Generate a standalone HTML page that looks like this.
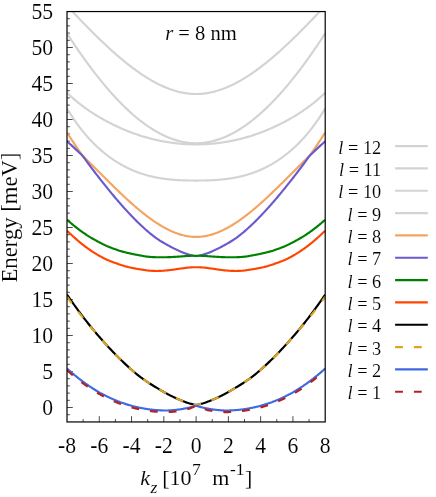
<!DOCTYPE html>
<html><head><meta charset="utf-8"><title>plot</title>
<style>
html,body{margin:0;padding:0;background:#fff}
svg{display:block;will-change:transform;opacity:0.999}
text{font-family:"Liberation Serif",serif;fill:#000;stroke:#fff;stroke-width:0.1px}
.i{font-style:italic}
</style></head><body>
<svg width="436" height="497" viewBox="0 0 436 497">
<rect width="436" height="497" fill="#fff"/>
<defs><clipPath id="c"><rect x="67.0" y="11.55" width="258.20" height="410.40"/></clipPath></defs>
<path d="M67.0,414.70h2.9M67.0,407.50h5.8M67.0,400.30h2.9M67.0,393.10h2.9M67.0,385.90h2.9M67.0,378.70h2.9M67.0,371.50h5.8M67.0,364.30h2.9M67.0,357.10h2.9M67.0,349.90h2.9M67.0,342.70h2.9M67.0,335.50h5.8M67.0,328.30h2.9M67.0,321.10h2.9M67.0,313.90h2.9M67.0,306.70h2.9M67.0,299.50h5.8M67.0,292.30h2.9M67.0,285.10h2.9M67.0,277.90h2.9M67.0,270.70h2.9M67.0,263.50h5.8M67.0,256.30h2.9M67.0,249.10h2.9M67.0,241.90h2.9M67.0,234.70h2.9M67.0,227.50h5.8M67.0,220.30h2.9M67.0,213.10h2.9M67.0,205.90h2.9M67.0,198.70h2.9M67.0,191.50h5.8M67.0,184.30h2.9M67.0,177.10h2.9M67.0,169.90h2.9M67.0,162.70h2.9M67.0,155.50h5.8M67.0,148.30h2.9M67.0,141.10h2.9M67.0,133.90h2.9M67.0,126.70h2.9M67.0,119.50h5.8M67.0,112.30h2.9M67.0,105.10h2.9M67.0,97.90h2.9M67.0,90.70h2.9M67.0,83.50h5.8M67.0,76.30h2.9M67.0,69.10h2.9M67.0,61.90h2.9M67.0,54.70h2.9M67.0,47.50h5.8M67.0,40.30h2.9M67.0,33.10h2.9M67.0,25.90h2.9M67.0,18.70h2.9M83.14,421.95v-2.9M99.28,421.95v-5.8M115.41,421.95v-2.9M131.55,421.95v-5.8M147.69,421.95v-2.9M163.82,421.95v-5.8M179.96,421.95v-2.9M196.10,421.95v-5.8M212.24,421.95v-2.9M228.38,421.95v-5.8M244.51,421.95v-2.9M260.65,421.95v-5.8M276.79,421.95v-2.9M292.92,421.95v-5.8M309.06,421.95v-2.9" stroke="#000" stroke-width="0.7" fill="none"/>
<g clip-path="url(#c)" fill="none" stroke-width="2.15" stroke-linejoin="round">
<path d="M67.00,5.79 L67.81,6.65 L68.61,7.51 L69.42,8.36 L70.23,9.22 L71.03,10.07 L71.84,10.93 L72.65,11.78 L73.46,12.63 L74.26,13.48 L75.07,14.33 L75.88,15.17 L76.68,16.02 L77.49,16.86 L78.30,17.71 L79.10,18.55 L79.91,19.39 L80.72,20.23 L81.52,21.06 L82.33,21.90 L83.14,22.73 L83.94,23.56 L84.75,24.39 L85.56,25.21 L86.37,26.04 L87.17,26.86 L87.98,27.68 L88.79,28.50 L89.59,29.31 L90.40,30.12 L91.21,30.94 L92.01,31.74 L92.82,32.55 L93.63,33.35 L94.43,34.15 L95.24,34.95 L96.05,35.74 L96.85,36.53 L97.66,37.32 L98.47,38.11 L99.28,38.89 L100.08,39.67 L100.89,40.45 L101.70,41.22 L102.50,41.99 L103.31,42.76 L104.12,43.52 L104.92,44.28 L105.73,45.04 L106.54,45.79 L107.34,46.54 L108.15,47.29 L108.96,48.03 L109.76,48.77 L110.57,49.50 L111.38,50.23 L112.19,50.96 L112.99,51.68 L113.80,52.40 L114.61,53.12 L115.41,53.83 L116.22,54.53 L117.03,55.24 L117.83,55.93 L118.64,56.63 L119.45,57.32 L120.25,58.00 L121.06,58.68 L121.87,59.35 L122.67,60.03 L123.48,60.69 L124.29,61.35 L125.09,62.01 L125.90,62.66 L126.71,63.31 L127.52,63.95 L128.32,64.58 L129.13,65.21 L129.94,65.84 L130.74,66.46 L131.55,67.07 L132.36,67.68 L133.16,68.29 L133.97,68.89 L134.78,69.48 L135.58,70.07 L136.39,70.65 L137.20,71.23 L138.00,71.80 L138.81,72.36 L139.62,72.92 L140.43,73.48 L141.23,74.02 L142.04,74.56 L142.85,75.10 L143.65,75.63 L144.46,76.15 L145.27,76.67 L146.07,77.18 L146.88,77.68 L147.69,78.18 L148.49,78.67 L149.30,79.15 L150.11,79.63 L150.92,80.10 L151.72,80.56 L152.53,81.02 L153.34,81.47 L154.14,81.91 L154.95,82.35 L155.76,82.78 L156.56,83.20 L157.37,83.62 L158.18,84.02 L158.98,84.42 L159.79,84.82 L160.60,85.20 L161.40,85.58 L162.21,85.95 L163.02,86.32 L163.82,86.67 L164.63,87.02 L165.44,87.36 L166.25,87.69 L167.05,88.02 L167.86,88.34 L168.67,88.65 L169.47,88.95 L170.28,89.24 L171.09,89.52 L171.89,89.80 L172.70,90.07 L173.51,90.33 L174.31,90.58 L175.12,90.83 L175.93,91.06 L176.74,91.29 L177.54,91.51 L178.35,91.71 L179.16,91.92 L179.96,92.11 L180.77,92.29 L181.58,92.46 L182.38,92.63 L183.19,92.79 L184.00,92.93 L184.80,93.07 L185.61,93.20 L186.42,93.32 L187.22,93.43 L188.03,93.53 L188.84,93.62 L189.65,93.71 L190.45,93.78 L191.26,93.84 L192.07,93.90 L192.87,93.94 L193.68,93.98 L194.49,94.00 L195.29,94.02 L196.10,94.02 L196.91,94.02 L197.71,94.00 L198.52,93.98 L199.33,93.94 L200.13,93.90 L200.94,93.84 L201.75,93.78 L202.56,93.71 L203.36,93.62 L204.17,93.53 L204.98,93.43 L205.78,93.32 L206.59,93.20 L207.40,93.07 L208.20,92.93 L209.01,92.79 L209.82,92.63 L210.62,92.46 L211.43,92.29 L212.24,92.11 L213.04,91.92 L213.85,91.71 L214.66,91.51 L215.47,91.29 L216.27,91.06 L217.08,90.83 L217.89,90.58 L218.69,90.33 L219.50,90.07 L220.31,89.80 L221.11,89.52 L221.92,89.24 L222.73,88.95 L223.53,88.65 L224.34,88.34 L225.15,88.02 L225.95,87.69 L226.76,87.36 L227.57,87.02 L228.38,86.67 L229.18,86.32 L229.99,85.95 L230.80,85.58 L231.60,85.20 L232.41,84.82 L233.22,84.42 L234.02,84.02 L234.83,83.62 L235.64,83.20 L236.44,82.78 L237.25,82.35 L238.06,81.91 L238.86,81.47 L239.67,81.02 L240.48,80.56 L241.28,80.10 L242.09,79.63 L242.90,79.15 L243.71,78.67 L244.51,78.18 L245.32,77.68 L246.13,77.18 L246.93,76.67 L247.74,76.15 L248.55,75.63 L249.35,75.10 L250.16,74.56 L250.97,74.02 L251.77,73.48 L252.58,72.92 L253.39,72.36 L254.20,71.80 L255.00,71.23 L255.81,70.65 L256.62,70.07 L257.42,69.48 L258.23,68.89 L259.04,68.29 L259.84,67.68 L260.65,67.07 L261.46,66.46 L262.26,65.84 L263.07,65.21 L263.88,64.58 L264.68,63.95 L265.49,63.31 L266.30,62.66 L267.11,62.01 L267.91,61.35 L268.72,60.69 L269.53,60.03 L270.33,59.35 L271.14,58.68 L271.95,58.00 L272.75,57.32 L273.56,56.63 L274.37,55.93 L275.17,55.24 L275.98,54.53 L276.79,53.83 L277.59,53.12 L278.40,52.40 L279.21,51.68 L280.01,50.96 L280.82,50.23 L281.63,49.50 L282.44,48.77 L283.24,48.03 L284.05,47.29 L284.86,46.54 L285.66,45.79 L286.47,45.04 L287.28,44.28 L288.08,43.52 L288.89,42.76 L289.70,41.99 L290.50,41.22 L291.31,40.45 L292.12,39.67 L292.92,38.89 L293.73,38.11 L294.54,37.32 L295.35,36.53 L296.15,35.74 L296.96,34.95 L297.77,34.15 L298.57,33.35 L299.38,32.55 L300.19,31.74 L300.99,30.94 L301.80,30.12 L302.61,29.31 L303.41,28.50 L304.22,27.68 L305.03,26.86 L305.84,26.04 L306.64,25.21 L307.45,24.39 L308.26,23.56 L309.06,22.73 L309.87,21.90 L310.68,21.06 L311.48,20.23 L312.29,19.39 L313.10,18.55 L313.90,17.71 L314.71,16.86 L315.52,16.02 L316.32,15.17 L317.13,14.33 L317.94,13.48 L318.75,12.63 L319.55,11.78 L320.36,10.93 L321.17,10.07 L321.97,9.22 L322.78,8.36 L323.59,7.51 L324.39,6.65 L325.20,5.79" stroke="#d3d3d3"/>
<path d="M67.00,33.36 L67.81,34.61 L68.61,35.85 L69.42,37.09 L70.23,38.32 L71.03,39.55 L71.84,40.77 L72.65,41.98 L73.46,43.19 L74.26,44.40 L75.07,45.59 L75.88,46.79 L76.68,47.97 L77.49,49.15 L78.30,50.33 L79.10,51.49 L79.91,52.66 L80.72,53.81 L81.52,54.96 L82.33,56.11 L83.14,57.25 L83.94,58.38 L84.75,59.50 L85.56,60.62 L86.37,61.74 L87.17,62.85 L87.98,63.95 L88.79,65.04 L89.59,66.13 L90.40,67.21 L91.21,68.29 L92.01,69.36 L92.82,70.42 L93.63,71.48 L94.43,72.53 L95.24,73.57 L96.05,74.61 L96.85,75.64 L97.66,76.66 L98.47,77.68 L99.28,78.69 L100.08,79.69 L100.89,80.69 L101.70,81.68 L102.50,82.67 L103.31,83.64 L104.12,84.61 L104.92,85.58 L105.73,86.53 L106.54,87.48 L107.34,88.42 L108.15,89.36 L108.96,90.29 L109.76,91.21 L110.57,92.12 L111.38,93.03 L112.19,93.93 L112.99,94.82 L113.80,95.71 L114.61,96.59 L115.41,97.46 L116.22,98.33 L117.03,99.18 L117.83,100.03 L118.64,100.87 L119.45,101.71 L120.25,102.54 L121.06,103.36 L121.87,104.17 L122.67,104.98 L123.48,105.77 L124.29,106.56 L125.09,107.35 L125.90,108.12 L126.71,108.89 L127.52,109.65 L128.32,110.40 L129.13,111.14 L129.94,111.88 L130.74,112.61 L131.55,113.33 L132.36,114.04 L133.16,114.75 L133.97,115.45 L134.78,116.14 L135.58,116.82 L136.39,117.49 L137.20,118.16 L138.00,118.82 L138.81,119.47 L139.62,120.11 L140.43,120.74 L141.23,121.37 L142.04,121.98 L142.85,122.59 L143.65,123.19 L144.46,123.79 L145.27,124.37 L146.07,124.95 L146.88,125.51 L147.69,126.07 L148.49,126.62 L149.30,127.17 L150.11,127.70 L150.92,128.22 L151.72,128.74 L152.53,129.25 L153.34,129.75 L154.14,130.24 L154.95,130.72 L155.76,131.20 L156.56,131.66 L157.37,132.12 L158.18,132.57 L158.98,133.01 L159.79,133.44 L160.60,133.86 L161.40,134.27 L162.21,134.68 L163.02,135.07 L163.82,135.46 L164.63,135.83 L165.44,136.20 L166.25,136.56 L167.05,136.91 L167.86,137.25 L168.67,137.58 L169.47,137.90 L170.28,138.22 L171.09,138.52 L171.89,138.82 L172.70,139.10 L173.51,139.38 L174.31,139.65 L175.12,139.90 L175.93,140.15 L176.74,140.39 L177.54,140.62 L178.35,140.84 L179.16,141.05 L179.96,141.25 L180.77,141.45 L181.58,141.63 L182.38,141.80 L183.19,141.96 L184.00,142.12 L184.80,142.26 L185.61,142.39 L186.42,142.52 L187.22,142.63 L188.03,142.74 L188.84,142.83 L189.65,142.92 L190.45,142.99 L191.26,143.06 L192.07,143.11 L192.87,143.16 L193.68,143.19 L194.49,143.22 L195.29,143.23 L196.10,143.24 L196.91,143.23 L197.71,143.22 L198.52,143.19 L199.33,143.16 L200.13,143.11 L200.94,143.06 L201.75,142.99 L202.56,142.92 L203.36,142.83 L204.17,142.74 L204.98,142.63 L205.78,142.52 L206.59,142.39 L207.40,142.26 L208.20,142.12 L209.01,141.96 L209.82,141.80 L210.62,141.63 L211.43,141.45 L212.24,141.25 L213.04,141.05 L213.85,140.84 L214.66,140.62 L215.47,140.39 L216.27,140.15 L217.08,139.90 L217.89,139.65 L218.69,139.38 L219.50,139.10 L220.31,138.82 L221.11,138.52 L221.92,138.22 L222.73,137.90 L223.53,137.58 L224.34,137.25 L225.15,136.91 L225.95,136.56 L226.76,136.20 L227.57,135.83 L228.38,135.46 L229.18,135.07 L229.99,134.68 L230.80,134.27 L231.60,133.86 L232.41,133.44 L233.22,133.01 L234.02,132.57 L234.83,132.12 L235.64,131.66 L236.44,131.20 L237.25,130.72 L238.06,130.24 L238.86,129.75 L239.67,129.25 L240.48,128.74 L241.28,128.22 L242.09,127.70 L242.90,127.17 L243.71,126.62 L244.51,126.07 L245.32,125.51 L246.13,124.95 L246.93,124.37 L247.74,123.79 L248.55,123.19 L249.35,122.59 L250.16,121.98 L250.97,121.37 L251.77,120.74 L252.58,120.11 L253.39,119.47 L254.20,118.82 L255.00,118.16 L255.81,117.49 L256.62,116.82 L257.42,116.14 L258.23,115.45 L259.04,114.75 L259.84,114.04 L260.65,113.33 L261.46,112.61 L262.26,111.88 L263.07,111.14 L263.88,110.40 L264.68,109.65 L265.49,108.89 L266.30,108.12 L267.11,107.35 L267.91,106.56 L268.72,105.77 L269.53,104.98 L270.33,104.17 L271.14,103.36 L271.95,102.54 L272.75,101.71 L273.56,100.87 L274.37,100.03 L275.17,99.18 L275.98,98.33 L276.79,97.46 L277.59,96.59 L278.40,95.71 L279.21,94.82 L280.01,93.93 L280.82,93.03 L281.63,92.12 L282.44,91.21 L283.24,90.29 L284.05,89.36 L284.86,88.42 L285.66,87.48 L286.47,86.53 L287.28,85.58 L288.08,84.61 L288.89,83.64 L289.70,82.67 L290.50,81.68 L291.31,80.69 L292.12,79.69 L292.92,78.69 L293.73,77.68 L294.54,76.66 L295.35,75.64 L296.15,74.61 L296.96,73.57 L297.77,72.53 L298.57,71.48 L299.38,70.42 L300.19,69.36 L300.99,68.29 L301.80,67.21 L302.61,66.13 L303.41,65.04 L304.22,63.95 L305.03,62.85 L305.84,61.74 L306.64,60.62 L307.45,59.50 L308.26,58.38 L309.06,57.25 L309.87,56.11 L310.68,54.96 L311.48,53.81 L312.29,52.66 L313.10,51.49 L313.90,50.33 L314.71,49.15 L315.52,47.97 L316.32,46.79 L317.13,45.59 L317.94,44.40 L318.75,43.19 L319.55,41.98 L320.36,40.77 L321.17,39.55 L321.97,38.32 L322.78,37.09 L323.59,35.85 L324.39,34.61 L325.20,33.36" stroke="#d3d3d3"/>
<path d="M67.00,92.83 L67.81,93.59 L68.61,94.33 L69.42,95.07 L70.23,95.81 L71.03,96.53 L71.84,97.25 L72.65,97.97 L73.46,98.67 L74.26,99.37 L75.07,100.06 L75.88,100.74 L76.68,101.41 L77.49,102.08 L78.30,102.73 L79.10,103.38 L79.91,104.01 L80.72,104.64 L81.52,105.26 L82.33,105.86 L83.14,106.46 L83.94,107.05 L84.75,107.63 L85.56,108.21 L86.37,108.78 L87.17,109.35 L87.98,109.92 L88.79,110.47 L89.59,111.03 L90.40,111.57 L91.21,112.11 L92.01,112.65 L92.82,113.17 L93.63,113.69 L94.43,114.21 L95.24,114.72 L96.05,115.22 L96.85,115.71 L97.66,116.20 L98.47,116.68 L99.28,117.16 L100.08,117.62 L100.89,118.09 L101.70,118.55 L102.50,119.00 L103.31,119.45 L104.12,119.90 L104.92,120.34 L105.73,120.78 L106.54,121.21 L107.34,121.64 L108.15,122.06 L108.96,122.48 L109.76,122.90 L110.57,123.31 L111.38,123.72 L112.19,124.12 L112.99,124.52 L113.80,124.92 L114.61,125.31 L115.41,125.70 L116.22,126.08 L117.03,126.46 L117.83,126.83 L118.64,127.20 L119.45,127.57 L120.25,127.93 L121.06,128.29 L121.87,128.64 L122.67,128.99 L123.48,129.34 L124.29,129.68 L125.09,130.01 L125.90,130.35 L126.71,130.68 L127.52,131.00 L128.32,131.32 L129.13,131.64 L129.94,131.95 L130.74,132.26 L131.55,132.57 L132.36,132.87 L133.16,133.16 L133.97,133.45 L134.78,133.74 L135.58,134.03 L136.39,134.31 L137.20,134.58 L138.00,134.86 L138.81,135.13 L139.62,135.39 L140.43,135.65 L141.23,135.91 L142.04,136.16 L142.85,136.41 L143.65,136.65 L144.46,136.89 L145.27,137.13 L146.07,137.36 L146.88,137.59 L147.69,137.82 L148.49,138.04 L149.30,138.25 L150.11,138.47 L150.92,138.68 L151.72,138.88 L152.53,139.08 L153.34,139.28 L154.14,139.48 L154.95,139.67 L155.76,139.85 L156.56,140.03 L157.37,140.21 L158.18,140.39 L158.98,140.56 L159.79,140.72 L160.60,140.89 L161.40,141.05 L162.21,141.20 L163.02,141.35 L163.82,141.50 L164.63,141.65 L165.44,141.79 L166.25,141.92 L167.05,142.06 L167.86,142.18 L168.67,142.31 L169.47,142.43 L170.28,142.55 L171.09,142.66 L171.89,142.77 L172.70,142.88 L173.51,142.98 L174.31,143.08 L175.12,143.18 L175.93,143.27 L176.74,143.36 L177.54,143.44 L178.35,143.52 L179.16,143.60 L179.96,143.67 L180.77,143.74 L181.58,143.81 L182.38,143.87 L183.19,143.93 L184.00,143.99 L184.80,144.04 L185.61,144.09 L186.42,144.13 L187.22,144.17 L188.03,144.21 L188.84,144.24 L189.65,144.27 L190.45,144.30 L191.26,144.32 L192.07,144.34 L192.87,144.36 L193.68,144.37 L194.49,144.38 L195.29,144.38 L196.10,144.39 L196.91,144.38 L197.71,144.38 L198.52,144.37 L199.33,144.36 L200.13,144.34 L200.94,144.32 L201.75,144.30 L202.56,144.27 L203.36,144.24 L204.17,144.21 L204.98,144.17 L205.78,144.13 L206.59,144.09 L207.40,144.04 L208.20,143.99 L209.01,143.93 L209.82,143.87 L210.62,143.81 L211.43,143.74 L212.24,143.67 L213.04,143.60 L213.85,143.52 L214.66,143.44 L215.47,143.36 L216.27,143.27 L217.08,143.18 L217.89,143.08 L218.69,142.98 L219.50,142.88 L220.31,142.77 L221.11,142.66 L221.92,142.55 L222.73,142.43 L223.53,142.31 L224.34,142.18 L225.15,142.06 L225.95,141.92 L226.76,141.79 L227.57,141.65 L228.38,141.50 L229.18,141.35 L229.99,141.20 L230.80,141.05 L231.60,140.89 L232.41,140.72 L233.22,140.56 L234.02,140.39 L234.83,140.21 L235.64,140.03 L236.44,139.85 L237.25,139.67 L238.06,139.48 L238.86,139.28 L239.67,139.08 L240.48,138.88 L241.28,138.68 L242.09,138.47 L242.90,138.25 L243.71,138.04 L244.51,137.82 L245.32,137.59 L246.13,137.36 L246.93,137.13 L247.74,136.89 L248.55,136.65 L249.35,136.41 L250.16,136.16 L250.97,135.91 L251.77,135.65 L252.58,135.39 L253.39,135.13 L254.20,134.86 L255.00,134.58 L255.81,134.31 L256.62,134.03 L257.42,133.74 L258.23,133.45 L259.04,133.16 L259.84,132.87 L260.65,132.57 L261.46,132.26 L262.26,131.95 L263.07,131.64 L263.88,131.32 L264.68,131.00 L265.49,130.68 L266.30,130.35 L267.11,130.01 L267.91,129.68 L268.72,129.34 L269.53,128.99 L270.33,128.64 L271.14,128.29 L271.95,127.93 L272.75,127.57 L273.56,127.20 L274.37,126.83 L275.17,126.46 L275.98,126.08 L276.79,125.70 L277.59,125.31 L278.40,124.92 L279.21,124.52 L280.01,124.12 L280.82,123.72 L281.63,123.31 L282.44,122.90 L283.24,122.48 L284.05,122.06 L284.86,121.64 L285.66,121.21 L286.47,120.78 L287.28,120.34 L288.08,119.90 L288.89,119.45 L289.70,119.00 L290.50,118.55 L291.31,118.09 L292.12,117.62 L292.92,117.16 L293.73,116.68 L294.54,116.20 L295.35,115.71 L296.15,115.22 L296.96,114.72 L297.77,114.21 L298.57,113.69 L299.38,113.17 L300.19,112.65 L300.99,112.11 L301.80,111.57 L302.61,111.03 L303.41,110.47 L304.22,109.92 L305.03,109.35 L305.84,108.78 L306.64,108.21 L307.45,107.63 L308.26,107.05 L309.06,106.46 L309.87,105.86 L310.68,105.26 L311.48,104.64 L312.29,104.01 L313.10,103.38 L313.90,102.73 L314.71,102.08 L315.52,101.41 L316.32,100.74 L317.13,100.06 L317.94,99.37 L318.75,98.67 L319.55,97.97 L320.36,97.25 L321.17,96.53 L321.97,95.81 L322.78,95.07 L323.59,94.33 L324.39,93.59 L325.20,92.83" stroke="#d3d3d3"/>
<path d="M67.00,108.49 L67.81,109.81 L68.61,111.11 L69.42,112.40 L70.23,113.68 L71.03,114.94 L71.84,116.17 L72.65,117.40 L73.46,118.60 L74.26,119.79 L75.07,120.96 L75.88,122.11 L76.68,123.24 L77.49,124.35 L78.30,125.44 L79.10,126.52 L79.91,127.58 L80.72,128.63 L81.52,129.67 L82.33,130.69 L83.14,131.70 L83.94,132.69 L84.75,133.67 L85.56,134.64 L86.37,135.58 L87.17,136.51 L87.98,137.43 L88.79,138.33 L89.59,139.21 L90.40,140.07 L91.21,140.91 L92.01,141.74 L92.82,142.56 L93.63,143.37 L94.43,144.16 L95.24,144.94 L96.05,145.72 L96.85,146.48 L97.66,147.23 L98.47,147.97 L99.28,148.69 L100.08,149.41 L100.89,150.12 L101.70,150.81 L102.50,151.50 L103.31,152.17 L104.12,152.84 L104.92,153.49 L105.73,154.14 L106.54,154.77 L107.34,155.39 L108.15,156.01 L108.96,156.61 L109.76,157.20 L110.57,157.79 L111.38,158.36 L112.19,158.93 L112.99,159.48 L113.80,160.03 L114.61,160.56 L115.41,161.09 L116.22,161.61 L117.03,162.12 L117.83,162.62 L118.64,163.11 L119.45,163.59 L120.25,164.06 L121.06,164.53 L121.87,164.98 L122.67,165.43 L123.48,165.87 L124.29,166.30 L125.09,166.72 L125.90,167.13 L126.71,167.54 L127.52,167.93 L128.32,168.32 L129.13,168.70 L129.94,169.08 L130.74,169.44 L131.55,169.80 L132.36,170.15 L133.16,170.49 L133.97,170.83 L134.78,171.16 L135.58,171.48 L136.39,171.79 L137.20,172.10 L138.00,172.40 L138.81,172.69 L139.62,172.97 L140.43,173.25 L141.23,173.52 L142.04,173.79 L142.85,174.05 L143.65,174.30 L144.46,174.54 L145.27,174.78 L146.07,175.02 L146.88,175.24 L147.69,175.46 L148.49,175.68 L149.30,175.89 L150.11,176.09 L150.92,176.29 L151.72,176.48 L152.53,176.66 L153.34,176.84 L154.14,177.02 L154.95,177.19 L155.76,177.35 L156.56,177.51 L157.37,177.66 L158.18,177.81 L158.98,177.96 L159.79,178.09 L160.60,178.23 L161.40,178.36 L162.21,178.48 L163.02,178.60 L163.82,178.72 L164.63,178.83 L165.44,178.93 L166.25,179.04 L167.05,179.13 L167.86,179.23 L168.67,179.32 L169.47,179.40 L170.28,179.49 L171.09,179.56 L171.89,179.64 L172.70,179.71 L173.51,179.78 L174.31,179.84 L175.12,179.90 L175.93,179.96 L176.74,180.01 L177.54,180.07 L178.35,180.11 L179.16,180.16 L179.96,180.20 L180.77,180.24 L181.58,180.28 L182.38,180.31 L183.19,180.34 L184.00,180.37 L184.80,180.40 L185.61,180.42 L186.42,180.44 L187.22,180.46 L188.03,180.48 L188.84,180.49 L189.65,180.51 L190.45,180.52 L191.26,180.53 L192.07,180.54 L192.87,180.54 L193.68,180.55 L194.49,180.55 L195.29,180.55 L196.10,180.55 L196.91,180.55 L197.71,180.55 L198.52,180.55 L199.33,180.54 L200.13,180.54 L200.94,180.53 L201.75,180.52 L202.56,180.51 L203.36,180.49 L204.17,180.48 L204.98,180.46 L205.78,180.44 L206.59,180.42 L207.40,180.40 L208.20,180.37 L209.01,180.34 L209.82,180.31 L210.62,180.28 L211.43,180.24 L212.24,180.20 L213.04,180.16 L213.85,180.11 L214.66,180.07 L215.47,180.01 L216.27,179.96 L217.08,179.90 L217.89,179.84 L218.69,179.78 L219.50,179.71 L220.31,179.64 L221.11,179.56 L221.92,179.49 L222.73,179.40 L223.53,179.32 L224.34,179.23 L225.15,179.13 L225.95,179.04 L226.76,178.93 L227.57,178.83 L228.38,178.72 L229.18,178.60 L229.99,178.48 L230.80,178.36 L231.60,178.23 L232.41,178.09 L233.22,177.96 L234.02,177.81 L234.83,177.66 L235.64,177.51 L236.44,177.35 L237.25,177.19 L238.06,177.02 L238.86,176.84 L239.67,176.66 L240.48,176.48 L241.28,176.29 L242.09,176.09 L242.90,175.89 L243.71,175.68 L244.51,175.46 L245.32,175.24 L246.13,175.02 L246.93,174.78 L247.74,174.54 L248.55,174.30 L249.35,174.05 L250.16,173.79 L250.97,173.52 L251.77,173.25 L252.58,172.97 L253.39,172.69 L254.20,172.40 L255.00,172.10 L255.81,171.79 L256.62,171.48 L257.42,171.16 L258.23,170.83 L259.04,170.49 L259.84,170.15 L260.65,169.80 L261.46,169.44 L262.26,169.08 L263.07,168.70 L263.88,168.32 L264.68,167.93 L265.49,167.54 L266.30,167.13 L267.11,166.72 L267.91,166.30 L268.72,165.87 L269.53,165.43 L270.33,164.98 L271.14,164.53 L271.95,164.06 L272.75,163.59 L273.56,163.11 L274.37,162.62 L275.17,162.12 L275.98,161.61 L276.79,161.09 L277.59,160.56 L278.40,160.03 L279.21,159.48 L280.01,158.93 L280.82,158.36 L281.63,157.79 L282.44,157.20 L283.24,156.61 L284.05,156.01 L284.86,155.39 L285.66,154.77 L286.47,154.14 L287.28,153.49 L288.08,152.84 L288.89,152.17 L289.70,151.50 L290.50,150.81 L291.31,150.12 L292.12,149.41 L292.92,148.69 L293.73,147.97 L294.54,147.23 L295.35,146.48 L296.15,145.72 L296.96,144.94 L297.77,144.16 L298.57,143.37 L299.38,142.56 L300.19,141.74 L300.99,140.91 L301.80,140.07 L302.61,139.21 L303.41,138.33 L304.22,137.43 L305.03,136.51 L305.84,135.58 L306.64,134.64 L307.45,133.67 L308.26,132.69 L309.06,131.70 L309.87,130.69 L310.68,129.67 L311.48,128.63 L312.29,127.58 L313.10,126.52 L313.90,125.44 L314.71,124.35 L315.52,123.24 L316.32,122.11 L317.13,120.96 L317.94,119.79 L318.75,118.60 L319.55,117.40 L320.36,116.17 L321.17,114.94 L321.97,113.68 L322.78,112.40 L323.59,111.11 L324.39,109.81 L325.20,108.49" stroke="#d3d3d3"/>
<path d="M67.00,132.47 L67.81,133.73 L68.61,134.99 L69.42,136.24 L70.23,137.49 L71.03,138.73 L71.84,139.97 L72.65,141.20 L73.46,142.42 L74.26,143.64 L75.07,144.85 L75.88,146.05 L76.68,147.24 L77.49,148.42 L78.30,149.59 L79.10,150.76 L79.91,151.91 L80.72,153.05 L81.52,154.19 L82.33,155.33 L83.14,156.30 L83.94,157.08 L84.75,157.87 L85.56,158.65 L86.37,159.44 L87.17,160.23 L87.98,161.03 L88.79,161.82 L89.59,162.62 L90.40,163.41 L91.21,164.21 L92.01,165.01 L92.82,165.81 L93.63,166.62 L94.43,167.42 L95.24,168.22 L96.05,169.03 L96.85,169.83 L97.66,170.64 L98.47,171.44 L99.28,172.25 L100.08,173.05 L100.89,173.86 L101.70,174.67 L102.50,175.47 L103.31,176.28 L104.12,177.08 L104.92,177.89 L105.73,178.69 L106.54,179.49 L107.34,180.29 L108.15,181.09 L108.96,181.89 L109.76,182.69 L110.57,183.49 L111.38,184.28 L112.19,185.08 L112.99,185.87 L113.80,186.66 L114.61,187.45 L115.41,188.23 L116.22,189.02 L117.03,189.80 L117.83,190.58 L118.64,191.35 L119.45,192.13 L120.25,192.90 L121.06,193.67 L121.87,194.43 L122.67,195.20 L123.48,195.96 L124.29,196.71 L125.09,197.46 L125.90,198.21 L126.71,198.96 L127.52,199.70 L128.32,200.44 L129.13,201.17 L129.94,201.90 L130.74,202.63 L131.55,203.35 L132.36,204.06 L133.16,204.78 L133.97,205.48 L134.78,206.19 L135.58,206.88 L136.39,207.58 L137.20,208.26 L138.00,208.95 L138.81,209.62 L139.62,210.29 L140.43,210.96 L141.23,211.62 L142.04,212.27 L142.85,212.92 L143.65,213.56 L144.46,214.20 L145.27,214.83 L146.07,215.45 L146.88,216.07 L147.69,216.68 L148.49,217.29 L149.30,217.88 L150.11,218.47 L150.92,219.06 L151.72,219.63 L152.53,220.20 L153.34,220.76 L154.14,221.32 L154.95,221.86 L155.76,222.40 L156.56,222.93 L157.37,223.45 L158.18,223.97 L158.98,224.47 L159.79,224.97 L160.60,225.46 L161.40,225.94 L162.21,226.41 L163.02,226.88 L163.82,227.33 L164.63,227.78 L165.44,228.21 L166.25,228.64 L167.05,229.06 L167.86,229.47 L168.67,229.87 L169.47,230.26 L170.28,230.64 L171.09,231.01 L171.89,231.36 L172.70,231.71 L173.51,232.05 L174.31,232.38 L175.12,232.70 L175.93,233.01 L176.74,233.31 L177.54,233.59 L178.35,233.87 L179.16,234.13 L179.96,234.39 L180.77,234.63 L181.58,234.86 L182.38,235.08 L183.19,235.29 L184.00,235.48 L184.80,235.67 L185.61,235.84 L186.42,236.00 L187.22,236.15 L188.03,236.28 L188.84,236.41 L189.65,236.52 L190.45,236.61 L191.26,236.70 L192.07,236.77 L192.87,236.83 L193.68,236.88 L194.49,236.91 L195.29,236.93 L196.10,236.94 L196.91,236.93 L197.71,236.91 L198.52,236.88 L199.33,236.83 L200.13,236.77 L200.94,236.70 L201.75,236.61 L202.56,236.52 L203.36,236.41 L204.17,236.28 L204.98,236.15 L205.78,236.00 L206.59,235.84 L207.40,235.67 L208.20,235.48 L209.01,235.29 L209.82,235.08 L210.62,234.86 L211.43,234.63 L212.24,234.39 L213.04,234.13 L213.85,233.87 L214.66,233.59 L215.47,233.31 L216.27,233.01 L217.08,232.70 L217.89,232.38 L218.69,232.05 L219.50,231.71 L220.31,231.36 L221.11,231.01 L221.92,230.64 L222.73,230.26 L223.53,229.87 L224.34,229.47 L225.15,229.06 L225.95,228.64 L226.76,228.21 L227.57,227.78 L228.38,227.33 L229.18,226.88 L229.99,226.41 L230.80,225.94 L231.60,225.46 L232.41,224.97 L233.22,224.47 L234.02,223.97 L234.83,223.45 L235.64,222.93 L236.44,222.40 L237.25,221.86 L238.06,221.32 L238.86,220.76 L239.67,220.20 L240.48,219.63 L241.28,219.06 L242.09,218.47 L242.90,217.88 L243.71,217.29 L244.51,216.68 L245.32,216.07 L246.13,215.45 L246.93,214.83 L247.74,214.20 L248.55,213.56 L249.35,212.92 L250.16,212.27 L250.97,211.62 L251.77,210.96 L252.58,210.29 L253.39,209.62 L254.20,208.95 L255.00,208.26 L255.81,207.58 L256.62,206.88 L257.42,206.19 L258.23,205.48 L259.04,204.78 L259.84,204.06 L260.65,203.35 L261.46,202.63 L262.26,201.90 L263.07,201.17 L263.88,200.44 L264.68,199.70 L265.49,198.96 L266.30,198.21 L267.11,197.46 L267.91,196.71 L268.72,195.96 L269.53,195.20 L270.33,194.43 L271.14,193.67 L271.95,192.90 L272.75,192.13 L273.56,191.35 L274.37,190.58 L275.17,189.80 L275.98,189.02 L276.79,188.23 L277.59,187.45 L278.40,186.66 L279.21,185.87 L280.01,185.08 L280.82,184.28 L281.63,183.49 L282.44,182.69 L283.24,181.89 L284.05,181.09 L284.86,180.29 L285.66,179.49 L286.47,178.69 L287.28,177.89 L288.08,177.08 L288.89,176.28 L289.70,175.47 L290.50,174.67 L291.31,173.86 L292.12,173.05 L292.92,172.25 L293.73,171.44 L294.54,170.64 L295.35,169.83 L296.15,169.03 L296.96,168.22 L297.77,167.42 L298.57,166.62 L299.38,165.81 L300.19,165.01 L300.99,164.21 L301.80,163.41 L302.61,162.62 L303.41,161.82 L304.22,161.03 L305.03,160.23 L305.84,159.44 L306.64,158.65 L307.45,157.87 L308.26,157.08 L309.06,156.30 L309.87,155.33 L310.68,154.19 L311.48,153.05 L312.29,151.91 L313.10,150.76 L313.90,149.59 L314.71,148.42 L315.52,147.24 L316.32,146.05 L317.13,144.85 L317.94,143.64 L318.75,142.42 L319.55,141.20 L320.36,139.97 L321.17,138.73 L321.97,137.49 L322.78,136.24 L323.59,134.99 L324.39,133.73 L325.20,132.47" stroke="#f4a460"/>
<path d="M67.00,141.30 L67.81,142.01 L68.61,142.73 L69.42,143.45 L70.23,144.18 L71.03,144.91 L71.84,145.64 L72.65,146.38 L73.46,147.13 L74.26,147.87 L75.07,148.62 L75.88,149.38 L76.68,150.13 L77.49,150.89 L78.30,151.66 L79.10,152.42 L79.91,153.19 L80.72,153.97 L81.52,154.74 L82.33,155.52 L83.14,156.46 L83.94,157.59 L84.75,158.72 L85.56,159.84 L86.37,160.95 L87.17,162.06 L87.98,163.16 L88.79,164.26 L89.59,165.35 L90.40,166.43 L91.21,167.50 L92.01,168.57 L92.82,169.63 L93.63,170.70 L94.43,171.75 L95.24,172.81 L96.05,173.86 L96.85,174.91 L97.66,175.95 L98.47,176.99 L99.28,178.03 L100.08,179.06 L100.89,180.09 L101.70,181.12 L102.50,182.14 L103.31,183.16 L104.12,184.18 L104.92,185.19 L105.73,186.19 L106.54,187.20 L107.34,188.20 L108.15,189.19 L108.96,190.18 L109.76,191.17 L110.57,192.15 L111.38,193.12 L112.19,194.10 L112.99,195.06 L113.80,196.03 L114.61,196.99 L115.41,197.94 L116.22,198.89 L117.03,199.83 L117.83,200.77 L118.64,201.71 L119.45,202.63 L120.25,203.56 L121.06,204.48 L121.87,205.39 L122.67,206.30 L123.48,207.20 L124.29,208.10 L125.09,208.99 L125.90,209.88 L126.71,210.76 L127.52,211.63 L128.32,212.50 L129.13,213.37 L129.94,214.22 L130.74,215.07 L131.55,215.92 L132.36,216.76 L133.16,217.59 L133.97,218.42 L134.78,219.24 L135.58,220.06 L136.39,220.87 L137.20,221.67 L138.00,222.47 L138.81,223.26 L139.62,224.04 L140.43,224.81 L141.23,225.58 L142.04,226.34 L142.85,227.08 L143.65,227.82 L144.46,228.55 L145.27,229.27 L146.07,229.98 L146.88,230.68 L147.69,231.37 L148.49,232.05 L149.30,232.72 L150.11,233.39 L150.92,234.04 L151.72,234.69 L152.53,235.32 L153.34,235.95 L154.14,236.57 L154.95,237.17 L155.76,237.77 L156.56,238.36 L157.37,238.92 L158.18,239.47 L158.98,240.01 L159.79,240.53 L160.60,241.04 L161.40,241.53 L162.21,242.01 L163.02,242.49 L163.82,242.96 L164.63,243.42 L165.44,243.87 L166.25,244.32 L167.05,244.77 L167.86,245.21 L168.67,245.66 L169.47,246.10 L170.28,246.54 L171.09,246.97 L171.89,247.40 L172.70,247.81 L173.51,248.21 L174.31,248.61 L175.12,248.99 L175.93,249.36 L176.74,249.74 L177.54,250.12 L178.35,250.51 L179.16,250.90 L179.96,251.29 L180.77,251.66 L181.58,252.01 L182.38,252.34 L183.19,252.67 L184.00,252.99 L184.80,253.29 L185.61,253.58 L186.42,253.86 L187.22,254.12 L188.03,254.37 L188.84,254.61 L189.65,254.83 L190.45,255.03 L191.26,255.23 L192.07,255.40 L192.87,255.57 L193.68,255.71 L194.49,255.85 L195.29,255.97 L196.10,256.07 L196.91,255.97 L197.71,255.85 L198.52,255.71 L199.33,255.57 L200.13,255.40 L200.94,255.23 L201.75,255.03 L202.56,254.83 L203.36,254.61 L204.17,254.37 L204.98,254.12 L205.78,253.86 L206.59,253.58 L207.40,253.29 L208.20,252.99 L209.01,252.67 L209.82,252.34 L210.62,252.01 L211.43,251.66 L212.24,251.29 L213.04,250.90 L213.85,250.51 L214.66,250.12 L215.47,249.74 L216.27,249.36 L217.08,248.99 L217.89,248.61 L218.69,248.21 L219.50,247.81 L220.31,247.40 L221.11,246.97 L221.92,246.54 L222.73,246.10 L223.53,245.66 L224.34,245.21 L225.15,244.77 L225.95,244.32 L226.76,243.87 L227.57,243.42 L228.38,242.96 L229.18,242.49 L229.99,242.01 L230.80,241.53 L231.60,241.04 L232.41,240.53 L233.22,240.01 L234.02,239.47 L234.83,238.92 L235.64,238.36 L236.44,237.77 L237.25,237.17 L238.06,236.57 L238.86,235.95 L239.67,235.32 L240.48,234.69 L241.28,234.04 L242.09,233.39 L242.90,232.72 L243.71,232.05 L244.51,231.37 L245.32,230.68 L246.13,229.98 L246.93,229.27 L247.74,228.55 L248.55,227.82 L249.35,227.08 L250.16,226.34 L250.97,225.58 L251.77,224.81 L252.58,224.04 L253.39,223.26 L254.20,222.47 L255.00,221.67 L255.81,220.87 L256.62,220.06 L257.42,219.24 L258.23,218.42 L259.04,217.59 L259.84,216.76 L260.65,215.92 L261.46,215.07 L262.26,214.22 L263.07,213.37 L263.88,212.50 L264.68,211.63 L265.49,210.76 L266.30,209.88 L267.11,208.99 L267.91,208.10 L268.72,207.20 L269.53,206.30 L270.33,205.39 L271.14,204.48 L271.95,203.56 L272.75,202.63 L273.56,201.71 L274.37,200.77 L275.17,199.83 L275.98,198.89 L276.79,197.94 L277.59,196.99 L278.40,196.03 L279.21,195.06 L280.01,194.10 L280.82,193.12 L281.63,192.15 L282.44,191.17 L283.24,190.18 L284.05,189.19 L284.86,188.20 L285.66,187.20 L286.47,186.19 L287.28,185.19 L288.08,184.18 L288.89,183.16 L289.70,182.14 L290.50,181.12 L291.31,180.09 L292.12,179.06 L292.92,178.03 L293.73,176.99 L294.54,175.95 L295.35,174.91 L296.15,173.86 L296.96,172.81 L297.77,171.75 L298.57,170.70 L299.38,169.63 L300.19,168.57 L300.99,167.50 L301.80,166.43 L302.61,165.35 L303.41,164.26 L304.22,163.16 L305.03,162.06 L305.84,160.95 L306.64,159.84 L307.45,158.72 L308.26,157.59 L309.06,156.46 L309.87,155.52 L310.68,154.74 L311.48,153.97 L312.29,153.19 L313.10,152.42 L313.90,151.66 L314.71,150.89 L315.52,150.13 L316.32,149.38 L317.13,148.62 L317.94,147.87 L318.75,147.13 L319.55,146.38 L320.36,145.64 L321.17,144.91 L321.97,144.18 L322.78,143.45 L323.59,142.73 L324.39,142.01 L325.20,141.30" stroke="#6a5acd"/>
<path d="M67.00,219.72 L67.81,220.44 L68.61,221.14 L69.42,221.84 L70.23,222.53 L71.03,223.22 L71.84,223.89 L72.65,224.57 L73.46,225.23 L74.26,225.89 L75.07,226.54 L75.88,227.18 L76.68,227.82 L77.49,228.44 L78.30,229.06 L79.10,229.67 L79.91,230.28 L80.72,230.87 L81.52,231.46 L82.33,232.04 L83.14,232.61 L83.94,233.17 L84.75,233.72 L85.56,234.26 L86.37,234.79 L87.17,235.32 L87.98,235.83 L88.79,236.34 L89.59,236.83 L90.40,237.32 L91.21,237.80 L92.01,238.27 L92.82,238.74 L93.63,239.20 L94.43,239.66 L95.24,240.11 L96.05,240.55 L96.85,241.00 L97.66,241.44 L98.47,241.87 L99.28,242.30 L100.08,242.72 L100.89,243.14 L101.70,243.56 L102.50,243.96 L103.31,244.36 L104.12,244.75 L104.92,245.13 L105.73,245.50 L106.54,245.86 L107.34,246.22 L108.15,246.56 L108.96,246.89 L109.76,247.22 L110.57,247.54 L111.38,247.85 L112.19,248.16 L112.99,248.46 L113.80,248.75 L114.61,249.04 L115.41,249.33 L116.22,249.60 L117.03,249.88 L117.83,250.15 L118.64,250.41 L119.45,250.66 L120.25,250.91 L121.06,251.16 L121.87,251.39 L122.67,251.63 L123.48,251.85 L124.29,252.07 L125.09,252.28 L125.90,252.48 L126.71,252.68 L127.52,252.87 L128.32,253.06 L129.13,253.24 L129.94,253.42 L130.74,253.60 L131.55,253.77 L132.36,253.94 L133.16,254.11 L133.97,254.27 L134.78,254.43 L135.58,254.59 L136.39,254.75 L137.20,254.91 L138.00,255.06 L138.81,255.21 L139.62,255.36 L140.43,255.51 L141.23,255.66 L142.04,255.81 L142.85,255.95 L143.65,256.08 L144.46,256.21 L145.27,256.34 L146.07,256.45 L146.88,256.56 L147.69,256.66 L148.49,256.75 L149.30,256.83 L150.11,256.90 L150.92,256.96 L151.72,257.02 L152.53,257.07 L153.34,257.11 L154.14,257.14 L154.95,257.17 L155.76,257.20 L156.56,257.22 L157.37,257.24 L158.18,257.25 L158.98,257.26 L159.79,257.27 L160.60,257.27 L161.40,257.27 L162.21,257.27 L163.02,257.27 L163.82,257.26 L164.63,257.25 L165.44,257.24 L166.25,257.22 L167.05,257.20 L167.86,257.18 L168.67,257.15 L169.47,257.12 L170.28,257.09 L171.09,257.06 L171.89,257.02 L172.70,256.98 L173.51,256.94 L174.31,256.89 L175.12,256.84 L175.93,256.80 L176.74,256.74 L177.54,256.69 L178.35,256.63 L179.16,256.58 L179.96,256.52 L180.77,256.46 L181.58,256.39 L182.38,256.33 L183.19,256.27 L184.00,256.21 L184.80,256.15 L185.61,256.09 L186.42,256.04 L187.22,255.99 L188.03,255.94 L188.84,255.90 L189.65,255.86 L190.45,255.83 L191.26,255.80 L192.07,255.78 L192.87,255.76 L193.68,255.74 L194.49,255.73 L195.29,255.73 L196.10,255.72 L196.91,255.73 L197.71,255.73 L198.52,255.74 L199.33,255.76 L200.13,255.78 L200.94,255.80 L201.75,255.83 L202.56,255.86 L203.36,255.90 L204.17,255.94 L204.98,255.99 L205.78,256.04 L206.59,256.09 L207.40,256.15 L208.20,256.21 L209.01,256.27 L209.82,256.33 L210.62,256.39 L211.43,256.46 L212.24,256.52 L213.04,256.58 L213.85,256.63 L214.66,256.69 L215.47,256.74 L216.27,256.80 L217.08,256.84 L217.89,256.89 L218.69,256.94 L219.50,256.98 L220.31,257.02 L221.11,257.06 L221.92,257.09 L222.73,257.12 L223.53,257.15 L224.34,257.18 L225.15,257.20 L225.95,257.22 L226.76,257.24 L227.57,257.25 L228.38,257.26 L229.18,257.27 L229.99,257.27 L230.80,257.27 L231.60,257.27 L232.41,257.27 L233.22,257.26 L234.02,257.25 L234.83,257.24 L235.64,257.22 L236.44,257.20 L237.25,257.17 L238.06,257.14 L238.86,257.11 L239.67,257.07 L240.48,257.02 L241.28,256.96 L242.09,256.90 L242.90,256.83 L243.71,256.75 L244.51,256.66 L245.32,256.56 L246.13,256.45 L246.93,256.34 L247.74,256.21 L248.55,256.08 L249.35,255.95 L250.16,255.81 L250.97,255.66 L251.77,255.51 L252.58,255.36 L253.39,255.21 L254.20,255.06 L255.00,254.91 L255.81,254.75 L256.62,254.59 L257.42,254.43 L258.23,254.27 L259.04,254.11 L259.84,253.94 L260.65,253.77 L261.46,253.60 L262.26,253.42 L263.07,253.24 L263.88,253.06 L264.68,252.87 L265.49,252.68 L266.30,252.48 L267.11,252.28 L267.91,252.07 L268.72,251.85 L269.53,251.63 L270.33,251.39 L271.14,251.16 L271.95,250.91 L272.75,250.66 L273.56,250.41 L274.37,250.15 L275.17,249.88 L275.98,249.60 L276.79,249.33 L277.59,249.04 L278.40,248.75 L279.21,248.46 L280.01,248.16 L280.82,247.85 L281.63,247.54 L282.44,247.22 L283.24,246.89 L284.05,246.56 L284.86,246.22 L285.66,245.86 L286.47,245.50 L287.28,245.13 L288.08,244.75 L288.89,244.36 L289.70,243.96 L290.50,243.56 L291.31,243.14 L292.12,242.72 L292.92,242.30 L293.73,241.87 L294.54,241.44 L295.35,241.00 L296.15,240.55 L296.96,240.11 L297.77,239.66 L298.57,239.20 L299.38,238.74 L300.19,238.27 L300.99,237.80 L301.80,237.32 L302.61,236.83 L303.41,236.34 L304.22,235.83 L305.03,235.32 L305.84,234.79 L306.64,234.26 L307.45,233.72 L308.26,233.17 L309.06,232.61 L309.87,232.04 L310.68,231.46 L311.48,230.87 L312.29,230.28 L313.10,229.67 L313.90,229.06 L314.71,228.44 L315.52,227.82 L316.32,227.18 L317.13,226.54 L317.94,225.89 L318.75,225.23 L319.55,224.57 L320.36,223.89 L321.17,223.22 L321.97,222.53 L322.78,221.84 L323.59,221.14 L324.39,220.44 L325.20,219.72" stroke="#008000"/>
<path d="M67.00,230.74 L67.81,231.50 L68.61,232.26 L69.42,233.02 L70.23,233.77 L71.03,234.51 L71.84,235.25 L72.65,235.99 L73.46,236.72 L74.26,237.44 L75.07,238.16 L75.88,238.87 L76.68,239.57 L77.49,240.27 L78.30,240.96 L79.10,241.64 L79.91,242.31 L80.72,242.98 L81.52,243.64 L82.33,244.29 L83.14,244.92 L83.94,245.55 L84.75,246.18 L85.56,246.79 L86.37,247.39 L87.17,247.98 L87.98,248.55 L88.79,249.12 L89.59,249.68 L90.40,250.23 L91.21,250.77 L92.01,251.30 L92.82,251.82 L93.63,252.34 L94.43,252.85 L95.24,253.35 L96.05,253.85 L96.85,254.34 L97.66,254.82 L98.47,255.30 L99.28,255.77 L100.08,256.23 L100.89,256.69 L101.70,257.13 L102.50,257.56 L103.31,257.99 L104.12,258.40 L104.92,258.80 L105.73,259.18 L106.54,259.55 L107.34,259.91 L108.15,260.25 L108.96,260.59 L109.76,260.91 L110.57,261.23 L111.38,261.54 L112.19,261.84 L112.99,262.14 L113.80,262.43 L114.61,262.72 L115.41,263.01 L116.22,263.30 L117.03,263.58 L117.83,263.87 L118.64,264.15 L119.45,264.42 L120.25,264.69 L121.06,264.96 L121.87,265.22 L122.67,265.48 L123.48,265.73 L124.29,265.97 L125.09,266.21 L125.90,266.44 L126.71,266.66 L127.52,266.87 L128.32,267.08 L129.13,267.27 L129.94,267.46 L130.74,267.64 L131.55,267.81 L132.36,267.97 L133.16,268.13 L133.97,268.28 L134.78,268.43 L135.58,268.57 L136.39,268.72 L137.20,268.85 L138.00,268.99 L138.81,269.12 L139.62,269.26 L140.43,269.40 L141.23,269.53 L142.04,269.67 L142.85,269.80 L143.65,269.93 L144.46,270.05 L145.27,270.17 L146.07,270.28 L146.88,270.39 L147.69,270.48 L148.49,270.57 L149.30,270.65 L150.11,270.72 L150.92,270.77 L151.72,270.82 L152.53,270.87 L153.34,270.90 L154.14,270.92 L154.95,270.94 L155.76,270.95 L156.56,270.95 L157.37,270.95 L158.18,270.93 L158.98,270.92 L159.79,270.89 L160.60,270.86 L161.40,270.82 L162.21,270.78 L163.02,270.73 L163.82,270.68 L164.63,270.61 L165.44,270.55 L166.25,270.48 L167.05,270.40 L167.86,270.32 L168.67,270.24 L169.47,270.15 L170.28,270.05 L171.09,269.95 L171.89,269.85 L172.70,269.74 L173.51,269.63 L174.31,269.52 L175.12,269.41 L175.93,269.29 L176.74,269.17 L177.54,269.05 L178.35,268.93 L179.16,268.81 L179.96,268.68 L180.77,268.56 L181.58,268.44 L182.38,268.32 L183.19,268.20 L184.00,268.09 L184.80,267.98 L185.61,267.87 L186.42,267.78 L187.22,267.69 L188.03,267.60 L188.84,267.53 L189.65,267.47 L190.45,267.41 L191.26,267.37 L192.07,267.33 L192.87,267.30 L193.68,267.27 L194.49,267.26 L195.29,267.25 L196.10,267.24 L196.91,267.25 L197.71,267.26 L198.52,267.27 L199.33,267.30 L200.13,267.33 L200.94,267.37 L201.75,267.41 L202.56,267.47 L203.36,267.53 L204.17,267.60 L204.98,267.69 L205.78,267.78 L206.59,267.87 L207.40,267.98 L208.20,268.09 L209.01,268.20 L209.82,268.32 L210.62,268.44 L211.43,268.56 L212.24,268.68 L213.04,268.81 L213.85,268.93 L214.66,269.05 L215.47,269.17 L216.27,269.29 L217.08,269.41 L217.89,269.52 L218.69,269.63 L219.50,269.74 L220.31,269.85 L221.11,269.95 L221.92,270.05 L222.73,270.15 L223.53,270.24 L224.34,270.32 L225.15,270.40 L225.95,270.48 L226.76,270.55 L227.57,270.61 L228.38,270.68 L229.18,270.73 L229.99,270.78 L230.80,270.82 L231.60,270.86 L232.41,270.89 L233.22,270.92 L234.02,270.93 L234.83,270.95 L235.64,270.95 L236.44,270.95 L237.25,270.94 L238.06,270.92 L238.86,270.90 L239.67,270.87 L240.48,270.82 L241.28,270.77 L242.09,270.72 L242.90,270.65 L243.71,270.57 L244.51,270.48 L245.32,270.39 L246.13,270.28 L246.93,270.17 L247.74,270.05 L248.55,269.93 L249.35,269.80 L250.16,269.67 L250.97,269.53 L251.77,269.40 L252.58,269.26 L253.39,269.12 L254.20,268.99 L255.00,268.85 L255.81,268.72 L256.62,268.57 L257.42,268.43 L258.23,268.28 L259.04,268.13 L259.84,267.97 L260.65,267.81 L261.46,267.64 L262.26,267.46 L263.07,267.27 L263.88,267.08 L264.68,266.87 L265.49,266.66 L266.30,266.44 L267.11,266.21 L267.91,265.97 L268.72,265.73 L269.53,265.48 L270.33,265.22 L271.14,264.96 L271.95,264.69 L272.75,264.42 L273.56,264.15 L274.37,263.87 L275.17,263.58 L275.98,263.30 L276.79,263.01 L277.59,262.72 L278.40,262.43 L279.21,262.14 L280.01,261.84 L280.82,261.54 L281.63,261.23 L282.44,260.91 L283.24,260.59 L284.05,260.25 L284.86,259.91 L285.66,259.55 L286.47,259.18 L287.28,258.80 L288.08,258.40 L288.89,257.99 L289.70,257.56 L290.50,257.13 L291.31,256.69 L292.12,256.23 L292.92,255.77 L293.73,255.30 L294.54,254.82 L295.35,254.34 L296.15,253.85 L296.96,253.35 L297.77,252.85 L298.57,252.34 L299.38,251.82 L300.19,251.30 L300.99,250.77 L301.80,250.23 L302.61,249.68 L303.41,249.12 L304.22,248.55 L305.03,247.98 L305.84,247.39 L306.64,246.79 L307.45,246.18 L308.26,245.55 L309.06,244.92 L309.87,244.29 L310.68,243.64 L311.48,242.98 L312.29,242.31 L313.10,241.64 L313.90,240.96 L314.71,240.27 L315.52,239.57 L316.32,238.87 L317.13,238.16 L317.94,237.44 L318.75,236.72 L319.55,235.99 L320.36,235.25 L321.17,234.51 L321.97,233.77 L322.78,233.02 L323.59,232.26 L324.39,231.50 L325.20,230.74" stroke="#ff4500"/>
<path d="M67.00,294.58 L67.81,295.76 L68.61,296.93 L69.42,298.10 L70.23,299.27 L71.03,300.43 L71.84,301.58 L72.65,302.73 L73.46,303.87 L74.26,305.00 L75.07,306.12 L75.88,307.24 L76.68,308.35 L77.49,309.45 L78.30,310.55 L79.10,311.63 L79.91,312.72 L80.72,313.79 L81.52,314.87 L82.33,315.94 L83.14,317.00 L83.94,318.05 L84.75,319.10 L85.56,320.15 L86.37,321.18 L87.17,322.21 L87.98,323.23 L88.79,324.25 L89.59,325.25 L90.40,326.25 L91.21,327.24 L92.01,328.22 L92.82,329.19 L93.63,330.16 L94.43,331.12 L95.24,332.08 L96.05,333.04 L96.85,333.99 L97.66,334.93 L98.47,335.87 L99.28,336.81 L100.08,337.74 L100.89,338.66 L101.70,339.58 L102.50,340.50 L103.31,341.41 L104.12,342.31 L104.92,343.21 L105.73,344.10 L106.54,344.99 L107.34,345.87 L108.15,346.75 L108.96,347.62 L109.76,348.49 L110.57,349.35 L111.38,350.20 L112.19,351.05 L112.99,351.90 L113.80,352.74 L114.61,353.57 L115.41,354.40 L116.22,355.22 L117.03,356.04 L117.83,356.85 L118.64,357.65 L119.45,358.45 L120.25,359.25 L121.06,360.04 L121.87,360.82 L122.67,361.60 L123.48,362.37 L124.29,363.13 L125.09,363.89 L125.90,364.65 L126.71,365.40 L127.52,366.14 L128.32,366.88 L129.13,367.61 L129.94,368.33 L130.74,369.05 L131.55,369.76 L132.36,370.47 L133.16,371.17 L133.97,371.86 L134.78,372.55 L135.58,373.23 L136.39,373.89 L137.20,374.55 L138.00,375.18 L138.81,375.81 L139.62,376.43 L140.43,377.03 L141.23,377.63 L142.04,378.21 L142.85,378.79 L143.65,379.37 L144.46,379.93 L145.27,380.49 L146.07,381.05 L146.88,381.60 L147.69,382.15 L148.49,382.70 L149.30,383.23 L150.11,383.75 L150.92,384.26 L151.72,384.77 L152.53,385.27 L153.34,385.76 L154.14,386.25 L154.95,386.74 L155.76,387.22 L156.56,387.70 L157.37,388.18 L158.18,388.66 L158.98,389.14 L159.79,389.62 L160.60,390.11 L161.40,390.59 L162.21,391.06 L163.02,391.53 L163.82,391.99 L164.63,392.44 L165.44,392.89 L166.25,393.33 L167.05,393.77 L167.86,394.20 L168.67,394.62 L169.47,395.04 L170.28,395.44 L171.09,395.85 L171.89,396.25 L172.70,396.64 L173.51,397.03 L174.31,397.41 L175.12,397.79 L175.93,398.16 L176.74,398.52 L177.54,398.88 L178.35,399.23 L179.16,399.57 L179.96,399.91 L180.77,400.24 L181.58,400.57 L182.38,400.89 L183.19,401.21 L184.00,401.52 L184.80,401.83 L185.61,402.12 L186.42,402.41 L187.22,402.68 L188.03,402.94 L188.84,403.19 L189.65,403.44 L190.45,403.67 L191.26,403.90 L192.07,404.12 L192.87,404.33 L193.68,404.53 L194.49,404.72 L195.29,404.90 L196.10,405.08 L196.91,404.90 L197.71,404.72 L198.52,404.53 L199.33,404.33 L200.13,404.12 L200.94,403.90 L201.75,403.67 L202.56,403.44 L203.36,403.19 L204.17,402.94 L204.98,402.68 L205.78,402.41 L206.59,402.12 L207.40,401.83 L208.20,401.52 L209.01,401.21 L209.82,400.89 L210.62,400.57 L211.43,400.24 L212.24,399.91 L213.04,399.57 L213.85,399.23 L214.66,398.88 L215.47,398.52 L216.27,398.16 L217.08,397.79 L217.89,397.41 L218.69,397.03 L219.50,396.64 L220.31,396.25 L221.11,395.85 L221.92,395.44 L222.73,395.04 L223.53,394.62 L224.34,394.20 L225.15,393.77 L225.95,393.33 L226.76,392.89 L227.57,392.44 L228.38,391.99 L229.18,391.53 L229.99,391.06 L230.80,390.59 L231.60,390.11 L232.41,389.62 L233.22,389.14 L234.02,388.66 L234.83,388.18 L235.64,387.70 L236.44,387.22 L237.25,386.74 L238.06,386.25 L238.86,385.76 L239.67,385.27 L240.48,384.77 L241.28,384.26 L242.09,383.75 L242.90,383.23 L243.71,382.70 L244.51,382.15 L245.32,381.60 L246.13,381.05 L246.93,380.49 L247.74,379.93 L248.55,379.37 L249.35,378.79 L250.16,378.21 L250.97,377.63 L251.77,377.03 L252.58,376.43 L253.39,375.81 L254.20,375.18 L255.00,374.55 L255.81,373.89 L256.62,373.23 L257.42,372.55 L258.23,371.86 L259.04,371.17 L259.84,370.47 L260.65,369.76 L261.46,369.05 L262.26,368.33 L263.07,367.61 L263.88,366.88 L264.68,366.14 L265.49,365.40 L266.30,364.65 L267.11,363.89 L267.91,363.13 L268.72,362.37 L269.53,361.60 L270.33,360.82 L271.14,360.04 L271.95,359.25 L272.75,358.45 L273.56,357.65 L274.37,356.85 L275.17,356.04 L275.98,355.22 L276.79,354.40 L277.59,353.57 L278.40,352.74 L279.21,351.90 L280.01,351.05 L280.82,350.20 L281.63,349.35 L282.44,348.49 L283.24,347.62 L284.05,346.75 L284.86,345.87 L285.66,344.99 L286.47,344.10 L287.28,343.21 L288.08,342.31 L288.89,341.41 L289.70,340.50 L290.50,339.58 L291.31,338.66 L292.12,337.74 L292.92,336.81 L293.73,335.87 L294.54,334.93 L295.35,333.99 L296.15,333.04 L296.96,332.08 L297.77,331.12 L298.57,330.16 L299.38,329.19 L300.19,328.22 L300.99,327.24 L301.80,326.25 L302.61,325.25 L303.41,324.25 L304.22,323.23 L305.03,322.21 L305.84,321.18 L306.64,320.15 L307.45,319.10 L308.26,318.05 L309.06,317.00 L309.87,315.94 L310.68,314.87 L311.48,313.79 L312.29,312.72 L313.10,311.63 L313.90,310.55 L314.71,309.45 L315.52,308.35 L316.32,307.24 L317.13,306.12 L317.94,305.00 L318.75,303.87 L319.55,302.73 L320.36,301.58 L321.17,300.43 L321.97,299.27 L322.78,298.10 L323.59,296.93 L324.39,295.76 L325.20,294.58" stroke="#000000"/>
<path d="M67.00,296.74 L67.81,297.85 L68.61,298.97 L69.42,300.07 L70.23,301.18 L71.03,302.27 L71.84,303.36 L72.65,304.44 L73.46,305.52 L74.26,306.59 L75.07,307.65 L75.88,308.70 L76.68,309.75 L77.49,310.79 L78.30,311.82 L79.10,312.84 L79.91,313.86 L80.72,314.87 L81.52,315.88 L82.33,316.89 L83.14,317.89 L83.94,318.88 L84.75,319.87 L85.56,320.85 L86.37,321.82 L87.17,322.79 L87.98,323.74 L88.79,324.69 L89.59,325.63 L90.40,326.57 L91.21,327.49 L92.01,328.41 L92.82,329.32 L93.63,330.22 L94.43,331.12 L95.24,332.08 L96.05,333.04 L96.85,333.99 L97.66,334.93 L98.47,335.87 L99.28,336.81 L100.08,337.74 L100.89,338.66 L101.70,339.58 L102.50,340.50 L103.31,341.41 L104.12,342.31 L104.92,343.21 L105.73,344.10 L106.54,344.99 L107.34,345.87 L108.15,346.75 L108.96,347.62 L109.76,348.49 L110.57,349.35 L111.38,350.20 L112.19,351.05 L112.99,351.90 L113.80,352.74 L114.61,353.57 L115.41,354.40 L116.22,355.22 L117.03,356.04 L117.83,356.85 L118.64,357.65 L119.45,358.45 L120.25,359.25 L121.06,360.04 L121.87,360.82 L122.67,361.60 L123.48,362.37 L124.29,363.13 L125.09,363.89 L125.90,364.65 L126.71,365.40 L127.52,366.14 L128.32,366.88 L129.13,367.61 L129.94,368.33 L130.74,369.05 L131.55,369.76 L132.36,370.47 L133.16,371.17 L133.97,371.86 L134.78,372.55 L135.58,373.23 L136.39,373.89 L137.20,374.55 L138.00,375.18 L138.81,375.81 L139.62,376.43 L140.43,377.03 L141.23,377.63 L142.04,378.21 L142.85,378.79 L143.65,379.37 L144.46,379.93 L145.27,380.49 L146.07,381.05 L146.88,381.60 L147.69,382.15 L148.49,382.70 L149.30,383.23 L150.11,383.75 L150.92,384.26 L151.72,384.77 L152.53,385.27 L153.34,385.76 L154.14,386.25 L154.95,386.74 L155.76,387.22 L156.56,387.70 L157.37,388.18 L158.18,388.66 L158.98,389.14 L159.79,389.62 L160.60,390.11 L161.40,390.59 L162.21,391.06 L163.02,391.53 L163.82,391.99 L164.63,392.44 L165.44,392.89 L166.25,393.33 L167.05,393.77 L167.86,394.20 L168.67,394.62 L169.47,395.04 L170.28,395.44 L171.09,395.85 L171.89,396.25 L172.70,396.64 L173.51,397.03 L174.31,397.41 L175.12,397.79 L175.93,398.16 L176.74,398.52 L177.54,398.88 L178.35,399.23 L179.16,399.57 L179.96,399.91 L180.77,400.24 L181.58,400.57 L182.38,400.89 L183.19,401.21 L184.00,401.52 L184.80,401.83 L185.61,402.12 L186.42,402.41 L187.22,402.68 L188.03,402.94 L188.84,403.19 L189.65,403.44 L190.45,403.67 L191.26,403.90 L192.07,404.12 L192.87,404.33 L193.68,404.53 L194.49,404.72 L195.29,404.90 L196.10,405.08 L196.91,404.90 L197.71,404.72 L198.52,404.53 L199.33,404.33 L200.13,404.12 L200.94,403.90 L201.75,403.67 L202.56,403.44 L203.36,403.19 L204.17,402.94 L204.98,402.68 L205.78,402.41 L206.59,402.12 L207.40,401.83 L208.20,401.52 L209.01,401.21 L209.82,400.89 L210.62,400.57 L211.43,400.24 L212.24,399.91 L213.04,399.57 L213.85,399.23 L214.66,398.88 L215.47,398.52 L216.27,398.16 L217.08,397.79 L217.89,397.41 L218.69,397.03 L219.50,396.64 L220.31,396.25 L221.11,395.85 L221.92,395.44 L222.73,395.04 L223.53,394.62 L224.34,394.20 L225.15,393.77 L225.95,393.33 L226.76,392.89 L227.57,392.44 L228.38,391.99 L229.18,391.53 L229.99,391.06 L230.80,390.59 L231.60,390.11 L232.41,389.62 L233.22,389.14 L234.02,388.66 L234.83,388.18 L235.64,387.70 L236.44,387.22 L237.25,386.74 L238.06,386.25 L238.86,385.76 L239.67,385.27 L240.48,384.77 L241.28,384.26 L242.09,383.75 L242.90,383.23 L243.71,382.70 L244.51,382.15 L245.32,381.60 L246.13,381.05 L246.93,380.49 L247.74,379.93 L248.55,379.37 L249.35,378.79 L250.16,378.21 L250.97,377.63 L251.77,377.03 L252.58,376.43 L253.39,375.81 L254.20,375.18 L255.00,374.55 L255.81,373.89 L256.62,373.23 L257.42,372.55 L258.23,371.86 L259.04,371.17 L259.84,370.47 L260.65,369.76 L261.46,369.05 L262.26,368.33 L263.07,367.61 L263.88,366.88 L264.68,366.14 L265.49,365.40 L266.30,364.65 L267.11,363.89 L267.91,363.13 L268.72,362.37 L269.53,361.60 L270.33,360.82 L271.14,360.04 L271.95,359.25 L272.75,358.45 L273.56,357.65 L274.37,356.85 L275.17,356.04 L275.98,355.22 L276.79,354.40 L277.59,353.57 L278.40,352.74 L279.21,351.90 L280.01,351.05 L280.82,350.20 L281.63,349.35 L282.44,348.49 L283.24,347.62 L284.05,346.75 L284.86,345.87 L285.66,344.99 L286.47,344.10 L287.28,343.21 L288.08,342.31 L288.89,341.41 L289.70,340.50 L290.50,339.58 L291.31,338.66 L292.12,337.74 L292.92,336.81 L293.73,335.87 L294.54,334.93 L295.35,333.99 L296.15,333.04 L296.96,332.08 L297.77,331.12 L298.57,330.22 L299.38,329.32 L300.19,328.41 L300.99,327.49 L301.80,326.57 L302.61,325.63 L303.41,324.69 L304.22,323.74 L305.03,322.79 L305.84,321.82 L306.64,320.85 L307.45,319.87 L308.26,318.88 L309.06,317.89 L309.87,316.89 L310.68,315.88 L311.48,314.87 L312.29,313.86 L313.10,312.84 L313.90,311.82 L314.71,310.79 L315.52,309.75 L316.32,308.70 L317.13,307.65 L317.94,306.59 L318.75,305.52 L319.55,304.44 L320.36,303.36 L321.17,302.27 L321.97,301.18 L322.78,300.07 L323.59,298.97 L324.39,297.85 L325.20,296.74" stroke="#daa520" stroke-dasharray="7.8 11"/>
<path d="M67.00,368.58 L67.81,369.30 L68.61,370.02 L69.42,370.73 L70.23,371.43 L71.03,372.13 L71.84,372.82 L72.65,373.50 L73.46,374.18 L74.26,374.85 L75.07,375.51 L75.88,376.17 L76.68,376.82 L77.49,377.46 L78.30,378.10 L79.10,378.73 L79.91,379.36 L80.72,379.97 L81.52,380.58 L82.33,381.19 L83.14,381.78 L83.94,382.37 L84.75,382.96 L85.56,383.54 L86.37,384.11 L87.17,384.68 L87.98,385.24 L88.79,385.80 L89.59,386.35 L90.40,386.89 L91.21,387.43 L92.01,387.96 L92.82,388.48 L93.63,388.99 L94.43,389.50 L95.24,390.00 L96.05,390.49 L96.85,390.97 L97.66,391.45 L98.47,391.92 L99.28,392.37 L100.08,392.83 L100.89,393.27 L101.70,393.71 L102.50,394.14 L103.31,394.57 L104.12,394.99 L104.92,395.41 L105.73,395.82 L106.54,396.22 L107.34,396.62 L108.15,397.01 L108.96,397.39 L109.76,397.77 L110.57,398.15 L111.38,398.52 L112.19,398.88 L112.99,399.23 L113.80,399.58 L114.61,399.93 L115.41,400.26 L116.22,400.60 L117.03,400.92 L117.83,401.24 L118.64,401.56 L119.45,401.86 L120.25,402.17 L121.06,402.46 L121.87,402.75 L122.67,403.04 L123.48,403.32 L124.29,403.59 L125.09,403.86 L125.90,404.12 L126.71,404.38 L127.52,404.63 L128.32,404.87 L129.13,405.11 L129.94,405.34 L130.74,405.57 L131.55,405.79 L132.36,406.00 L133.16,406.21 L133.97,406.42 L134.78,406.62 L135.58,406.81 L136.39,406.99 L137.20,407.17 L138.00,407.35 L138.81,407.52 L139.62,407.68 L140.43,407.84 L141.23,408.00 L142.04,408.15 L142.85,408.30 L143.65,408.44 L144.46,408.58 L145.27,408.72 L146.07,408.85 L146.88,408.98 L147.69,409.10 L148.49,409.22 L149.30,409.34 L150.11,409.45 L150.92,409.55 L151.72,409.65 L152.53,409.74 L153.34,409.82 L154.14,409.90 L154.95,409.98 L155.76,410.05 L156.56,410.11 L157.37,410.17 L158.18,410.22 L158.98,410.28 L159.79,410.32 L160.60,410.37 L161.40,410.41 L162.21,410.44 L163.02,410.46 L163.82,410.48 L164.63,410.50 L165.44,410.50 L166.25,410.50 L167.05,410.49 L167.86,410.47 L168.67,410.44 L169.47,410.41 L170.28,410.36 L171.09,410.31 L171.89,410.24 L172.70,410.18 L173.51,410.11 L174.31,410.03 L175.12,409.95 L175.93,409.86 L176.74,409.77 L177.54,409.67 L178.35,409.56 L179.16,409.45 L179.96,409.34 L180.77,409.22 L181.58,409.09 L182.38,408.96 L183.19,408.82 L184.00,408.68 L184.80,408.53 L185.61,408.37 L186.42,408.21 L187.22,408.05 L188.03,407.88 L188.84,407.70 L189.65,407.52 L190.45,407.33 L191.26,407.13 L192.07,406.93 L192.87,406.73 L193.68,406.52 L194.49,406.30 L195.29,406.08 L196.10,405.85 L196.91,406.08 L197.71,406.30 L198.52,406.52 L199.33,406.73 L200.13,406.93 L200.94,407.13 L201.75,407.33 L202.56,407.52 L203.36,407.70 L204.17,407.88 L204.98,408.05 L205.78,408.21 L206.59,408.37 L207.40,408.53 L208.20,408.68 L209.01,408.82 L209.82,408.96 L210.62,409.09 L211.43,409.22 L212.24,409.34 L213.04,409.45 L213.85,409.56 L214.66,409.67 L215.47,409.77 L216.27,409.86 L217.08,409.95 L217.89,410.03 L218.69,410.11 L219.50,410.18 L220.31,410.24 L221.11,410.31 L221.92,410.36 L222.73,410.41 L223.53,410.44 L224.34,410.47 L225.15,410.49 L225.95,410.50 L226.76,410.50 L227.57,410.50 L228.38,410.48 L229.18,410.46 L229.99,410.44 L230.80,410.41 L231.60,410.37 L232.41,410.32 L233.22,410.28 L234.02,410.22 L234.83,410.17 L235.64,410.11 L236.44,410.05 L237.25,409.98 L238.06,409.90 L238.86,409.82 L239.67,409.74 L240.48,409.65 L241.28,409.55 L242.09,409.45 L242.90,409.34 L243.71,409.22 L244.51,409.10 L245.32,408.98 L246.13,408.85 L246.93,408.72 L247.74,408.58 L248.55,408.44 L249.35,408.30 L250.16,408.15 L250.97,408.00 L251.77,407.84 L252.58,407.68 L253.39,407.52 L254.20,407.35 L255.00,407.17 L255.81,406.99 L256.62,406.81 L257.42,406.62 L258.23,406.42 L259.04,406.21 L259.84,406.00 L260.65,405.79 L261.46,405.57 L262.26,405.34 L263.07,405.11 L263.88,404.87 L264.68,404.63 L265.49,404.38 L266.30,404.12 L267.11,403.86 L267.91,403.59 L268.72,403.32 L269.53,403.04 L270.33,402.75 L271.14,402.46 L271.95,402.17 L272.75,401.86 L273.56,401.56 L274.37,401.24 L275.17,400.92 L275.98,400.60 L276.79,400.26 L277.59,399.93 L278.40,399.58 L279.21,399.23 L280.01,398.88 L280.82,398.52 L281.63,398.15 L282.44,397.77 L283.24,397.39 L284.05,397.01 L284.86,396.62 L285.66,396.22 L286.47,395.82 L287.28,395.41 L288.08,394.99 L288.89,394.57 L289.70,394.14 L290.50,393.71 L291.31,393.27 L292.12,392.83 L292.92,392.37 L293.73,391.92 L294.54,391.45 L295.35,390.97 L296.15,390.49 L296.96,390.00 L297.77,389.50 L298.57,388.99 L299.38,388.48 L300.19,387.96 L300.99,387.43 L301.80,386.89 L302.61,386.35 L303.41,385.80 L304.22,385.24 L305.03,384.68 L305.84,384.11 L306.64,383.54 L307.45,382.96 L308.26,382.37 L309.06,381.78 L309.87,381.19 L310.68,380.58 L311.48,379.97 L312.29,379.36 L313.10,378.73 L313.90,378.10 L314.71,377.46 L315.52,376.82 L316.32,376.17 L317.13,375.51 L317.94,374.85 L318.75,374.18 L319.55,373.50 L320.36,372.82 L321.17,372.13 L321.97,371.43 L322.78,370.73 L323.59,370.02 L324.39,369.30 L325.20,368.58" stroke="#4169e1"/>
<path d="M67.00,370.17 L67.81,370.89 L68.61,371.60 L69.42,372.31 L70.23,373.02 L71.03,373.71 L71.84,374.40 L72.65,375.09 L73.46,375.76 L74.26,376.43 L75.07,377.10 L75.88,377.75 L76.68,378.40 L77.49,379.05 L78.30,379.69 L79.10,380.32 L79.91,380.94 L80.72,381.56 L81.52,382.17 L82.33,382.77 L83.14,383.37 L83.94,383.96 L84.75,384.54 L85.56,385.12 L86.37,385.70 L87.17,386.27 L87.98,386.83 L88.79,387.38 L89.59,387.93 L90.40,388.48 L91.21,389.01 L92.01,389.54 L92.82,390.06 L93.63,390.58 L94.43,391.08 L95.24,391.58 L96.05,392.07 L96.85,392.56 L97.66,393.03 L98.47,393.50 L99.28,393.96 L100.08,394.41 L100.89,394.86 L101.70,395.29 L102.50,395.73 L103.31,396.16 L104.12,396.58 L104.92,396.99 L105.73,397.40 L106.54,397.80 L107.34,398.20 L108.15,398.59 L108.96,398.98 L109.76,399.36 L110.57,399.73 L111.38,400.10 L112.19,400.46 L112.99,400.82 L113.80,401.17 L114.61,401.51 L115.41,401.85 L116.22,402.18 L117.03,402.51 L117.83,402.83 L118.64,403.14 L119.45,403.45 L120.25,403.75 L121.06,404.05 L121.87,404.34 L122.67,404.62 L123.48,404.90 L124.29,405.18 L125.09,405.44 L125.90,405.71 L126.71,405.96 L127.52,406.21 L128.32,406.45 L129.13,406.69 L129.94,406.93 L130.74,407.15 L131.55,407.37 L132.36,407.59 L133.16,407.80 L133.97,408.00 L134.78,408.20 L135.58,408.39 L136.39,408.58 L137.20,408.76 L138.00,408.93 L138.81,409.10 L139.62,409.27 L140.43,409.42 L141.23,409.58 L142.04,409.73 L142.85,409.88 L143.65,410.03 L144.46,410.17 L145.27,410.30 L146.07,410.44 L146.88,410.56 L147.69,410.69 L148.49,410.81 L149.30,410.92 L150.11,411.03 L150.92,411.13 L151.72,411.23 L152.53,411.32 L153.34,411.41 L154.14,411.49 L154.95,411.56 L155.76,411.63 L156.56,411.69 L157.37,411.75 L158.18,411.81 L158.98,411.86 L159.79,411.91 L160.60,411.95 L161.40,411.99 L162.21,412.02 L163.02,412.05 L163.82,412.07 L164.63,412.08 L165.44,412.09 L166.25,412.09 L167.05,412.07 L167.86,412.06 L168.67,412.03 L169.47,411.99 L170.28,411.94 L171.09,411.89 L171.89,411.83 L172.70,411.76 L173.51,411.69 L174.31,411.61 L175.12,411.53 L175.93,411.44 L176.74,411.35 L177.54,411.25 L178.35,411.15 L179.16,411.04 L179.96,410.92 L180.77,410.80 L181.58,410.67 L182.38,410.54 L183.19,410.40 L184.00,410.26 L184.80,410.11 L185.61,409.84 L186.42,409.57 L187.22,409.29 L188.03,409.01 L188.84,408.72 L189.65,408.42 L190.45,408.12 L191.26,407.81 L192.07,407.50 L192.87,407.18 L193.68,406.86 L194.49,406.53 L195.29,406.19 L196.10,405.85 L196.91,406.19 L197.71,406.53 L198.52,406.86 L199.33,407.18 L200.13,407.50 L200.94,407.81 L201.75,408.12 L202.56,408.42 L203.36,408.72 L204.17,409.01 L204.98,409.29 L205.78,409.57 L206.59,409.84 L207.40,410.11 L208.20,410.26 L209.01,410.40 L209.82,410.54 L210.62,410.67 L211.43,410.80 L212.24,410.92 L213.04,411.04 L213.85,411.15 L214.66,411.25 L215.47,411.35 L216.27,411.44 L217.08,411.53 L217.89,411.61 L218.69,411.69 L219.50,411.76 L220.31,411.83 L221.11,411.89 L221.92,411.94 L222.73,411.99 L223.53,412.03 L224.34,412.06 L225.15,412.07 L225.95,412.09 L226.76,412.09 L227.57,412.08 L228.38,412.07 L229.18,412.05 L229.99,412.02 L230.80,411.99 L231.60,411.95 L232.41,411.91 L233.22,411.86 L234.02,411.81 L234.83,411.75 L235.64,411.69 L236.44,411.63 L237.25,411.56 L238.06,411.49 L238.86,411.41 L239.67,411.32 L240.48,411.23 L241.28,411.13 L242.09,411.03 L242.90,410.92 L243.71,410.81 L244.51,410.69 L245.32,410.56 L246.13,410.44 L246.93,410.30 L247.74,410.17 L248.55,410.03 L249.35,409.88 L250.16,409.73 L250.97,409.58 L251.77,409.42 L252.58,409.27 L253.39,409.10 L254.20,408.93 L255.00,408.76 L255.81,408.58 L256.62,408.39 L257.42,408.20 L258.23,408.00 L259.04,407.80 L259.84,407.59 L260.65,407.37 L261.46,407.15 L262.26,406.93 L263.07,406.69 L263.88,406.45 L264.68,406.21 L265.49,405.96 L266.30,405.71 L267.11,405.44 L267.91,405.18 L268.72,404.90 L269.53,404.62 L270.33,404.34 L271.14,404.05 L271.95,403.75 L272.75,403.45 L273.56,403.14 L274.37,402.83 L275.17,402.51 L275.98,402.18 L276.79,401.85 L277.59,401.51 L278.40,401.17 L279.21,400.82 L280.01,400.46 L280.82,400.10 L281.63,399.73 L282.44,399.36 L283.24,398.98 L284.05,398.59 L284.86,398.20 L285.66,397.80 L286.47,397.40 L287.28,396.99 L288.08,396.58 L288.89,396.16 L289.70,395.73 L290.50,395.29 L291.31,394.86 L292.12,394.41 L292.92,393.96 L293.73,393.50 L294.54,393.03 L295.35,392.56 L296.15,392.07 L296.96,391.58 L297.77,391.08 L298.57,390.58 L299.38,390.06 L300.19,389.54 L300.99,389.01 L301.80,388.48 L302.61,387.93 L303.41,387.38 L304.22,386.83 L305.03,386.27 L305.84,385.70 L306.64,385.12 L307.45,384.54 L308.26,383.96 L309.06,383.37 L309.87,382.77 L310.68,382.17 L311.48,381.56 L312.29,380.94 L313.10,380.32 L313.90,379.69 L314.71,379.05 L315.52,378.40 L316.32,377.75 L317.13,377.10 L317.94,376.43 L318.75,375.76 L319.55,375.09 L320.36,374.40 L321.17,373.71 L321.97,373.02 L322.78,372.31 L323.59,371.60 L324.39,370.89 L325.20,370.17" stroke="#b22222" stroke-dasharray="7.8 11"/>
</g>
<rect x="67.0" y="11.55" width="258.20" height="410.40" fill="none" stroke="#000" stroke-width="1.2"/>
<g font-size="23.8" text-anchor="end">
<text transform="translate(53.1,414.80) scale(0.91,1)">0</text>
<text transform="translate(53.1,378.80) scale(0.91,1)">5</text>
<text transform="translate(53.1,342.80) scale(0.91,1)">10</text>
<text transform="translate(53.1,306.80) scale(0.91,1)">15</text>
<text transform="translate(53.1,270.80) scale(0.91,1)">20</text>
<text transform="translate(53.1,234.80) scale(0.91,1)">25</text>
<text transform="translate(53.1,198.80) scale(0.91,1)">30</text>
<text transform="translate(53.1,162.80) scale(0.91,1)">35</text>
<text transform="translate(53.1,126.80) scale(0.91,1)">40</text>
<text transform="translate(53.1,90.80) scale(0.91,1)">45</text>
<text transform="translate(53.1,54.80) scale(0.91,1)">50</text>
<text transform="translate(53.1,18.80) scale(0.91,1)">55</text>
</g>
<g font-size="23.8" text-anchor="middle">
<text transform="translate(67.00,452.5) scale(0.91,1)">-8</text>
<text transform="translate(99.28,452.5) scale(0.91,1)">-6</text>
<text transform="translate(131.55,452.5) scale(0.91,1)">-4</text>
<text transform="translate(163.82,452.5) scale(0.91,1)">-2</text>
<text transform="translate(196.10,452.5) scale(0.91,1)">0</text>
<text transform="translate(228.38,452.5) scale(0.91,1)">2</text>
<text transform="translate(260.65,452.5) scale(0.91,1)">4</text>
<text transform="translate(292.92,452.5) scale(0.91,1)">6</text>
<text transform="translate(325.20,452.5) scale(0.91,1)">8</text>
</g>
<text font-size="22.7" text-anchor="middle" transform="translate(16.5,217.5) rotate(-90)">Energy [meV]</text>
<g font-size="22" transform="translate(0,485.4)"><text x="140.3" class="i">k</text><text x="150.4" y="7.6" class="i" font-size="17.6">z</text><text x="162.2">[10</text><text x="192" y="-10" font-size="17.6">7</text><text x="212.3">m</text><text x="229.9" y="-10" font-size="17.6">-1</text><text x="245.1">]</text></g>
<text font-size="20.6" y="39.5"><tspan class="i" x="165.3">r</tspan><tspan x="178.3">= 8 nm</tspan></text>
<g font-size="18.3" text-anchor="end">
<text x="381.2" y="153.60"><tspan class="i">l</tspan> = 12</text>
<text x="381.2" y="175.93"><tspan class="i">l</tspan> = 11</text>
<text x="381.2" y="198.26"><tspan class="i">l</tspan> = 10</text>
<text x="381.2" y="220.59"><tspan class="i">l</tspan> = 9</text>
<text x="381.2" y="242.92"><tspan class="i">l</tspan> = 8</text>
<text x="381.2" y="265.25"><tspan class="i">l</tspan> = 7</text>
<text x="381.2" y="287.58"><tspan class="i">l</tspan> = 6</text>
<text x="381.2" y="309.91"><tspan class="i">l</tspan> = 5</text>
<text x="381.2" y="332.24"><tspan class="i">l</tspan> = 4</text>
<text x="381.2" y="354.57"><tspan class="i">l</tspan> = 3</text>
<text x="381.2" y="376.90"><tspan class="i">l</tspan> = 2</text>
<text x="381.2" y="399.23"><tspan class="i">l</tspan> = 1</text>
</g>
<g fill="none" stroke-width="2.15">
<path d="M395.1,146.10H427.8" stroke="#d3d3d3"/>
<path d="M395.1,168.43H427.8" stroke="#d3d3d3"/>
<path d="M395.1,190.76H427.8" stroke="#d3d3d3"/>
<path d="M395.1,213.09H427.8" stroke="#d3d3d3"/>
<path d="M395.1,235.42H427.8" stroke="#f4a460"/>
<path d="M395.1,257.75H427.8" stroke="#6a5acd"/>
<path d="M395.1,280.08H427.8" stroke="#008000"/>
<path d="M395.1,302.41H427.8" stroke="#ff4500"/>
<path d="M395.1,324.74H427.8" stroke="#000000"/>
<path d="M395.1,347.07H427.8" stroke="#daa520" stroke-dasharray="7.8 11"/>
<path d="M395.1,369.40H427.8" stroke="#4169e1"/>
<path d="M395.1,391.73H427.8" stroke="#b22222" stroke-dasharray="7.8 11"/>
</g>
</svg>
</body></html>
